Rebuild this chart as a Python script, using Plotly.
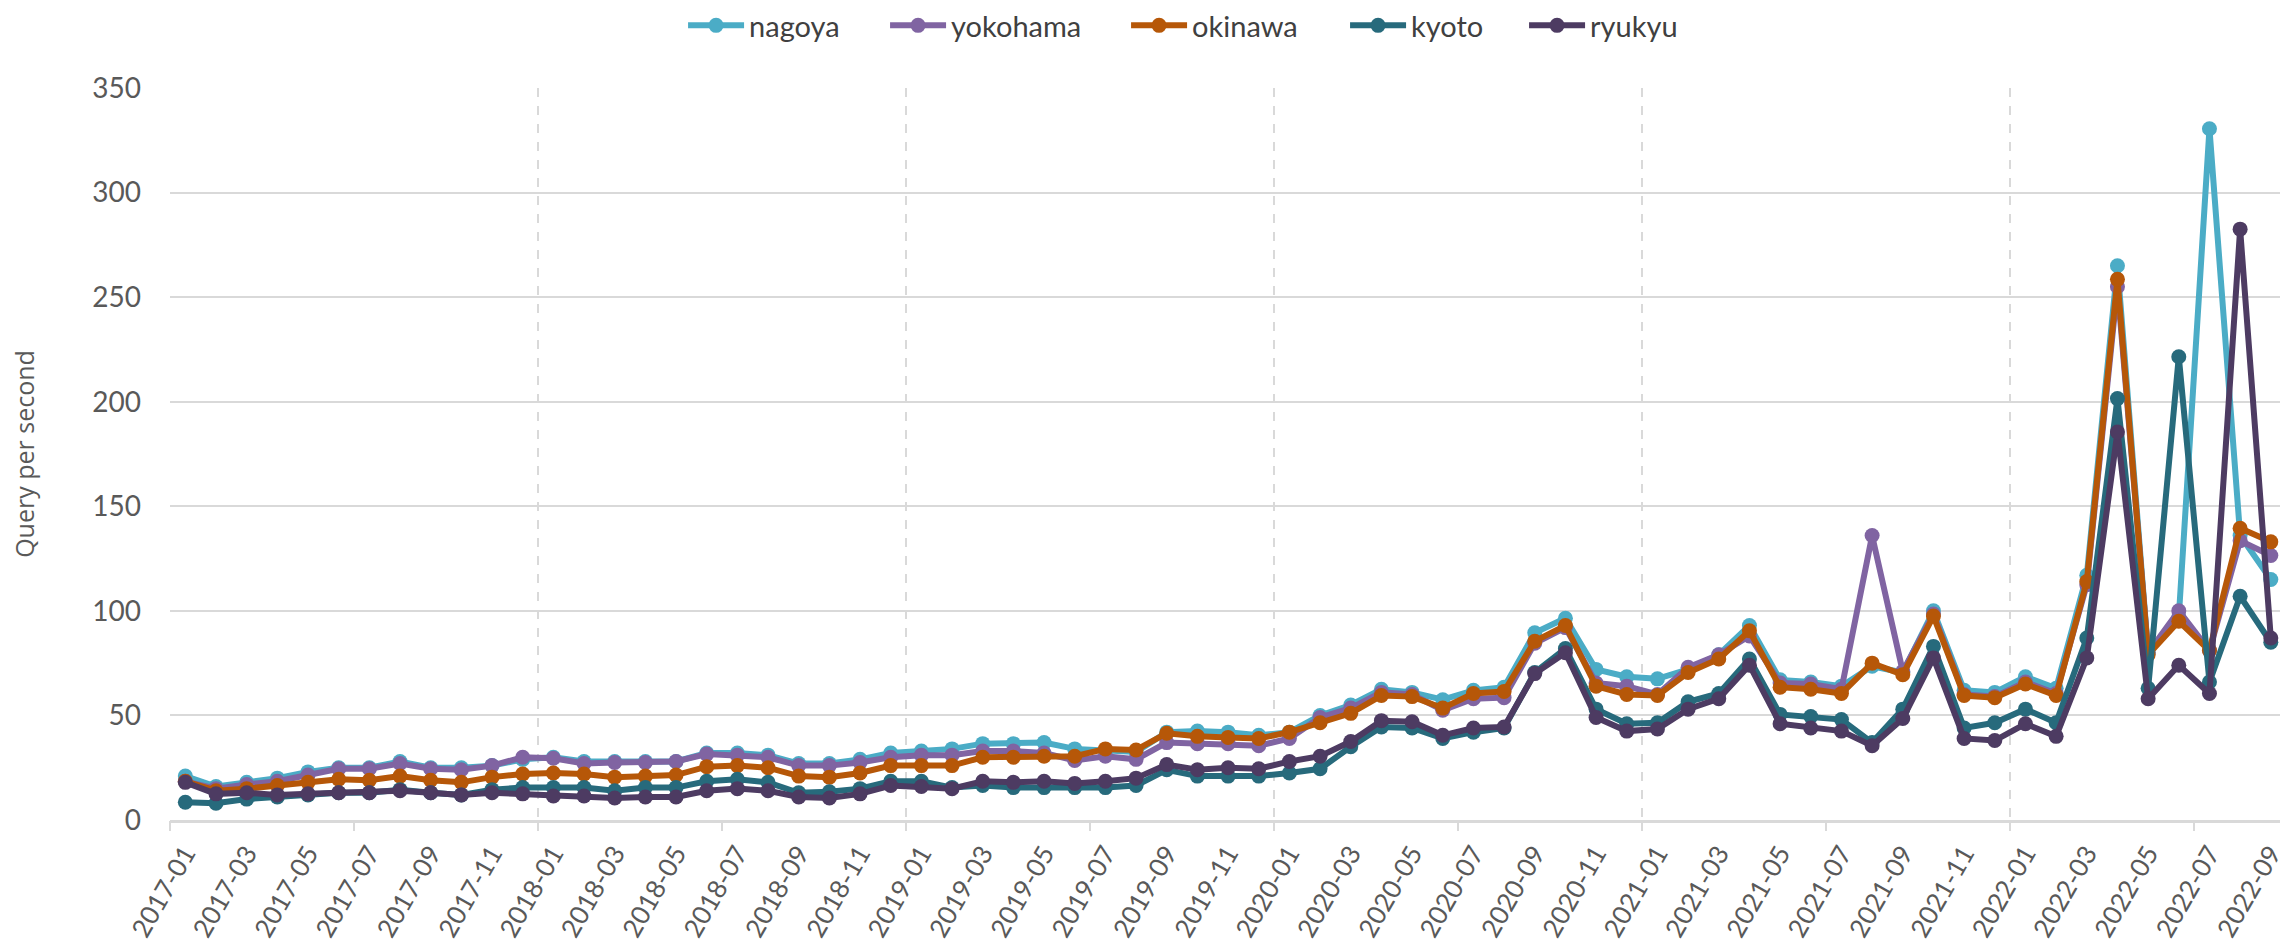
import plotly.graph_objects as go

# ---------------- data ----------------
months = [f"{y}-{m:02d}" for y in range(2017, 2023) for m in range(1, 13)][:69]

nagoya = [21, 16, 18, 20, 23, 25, 25, 28, 25, 25, 26, 29, 30, 28, 28, 28, 28, 32, 32, 31, 27, 27, 29, 32,
          33, 34, 36.5, 36.5, 37, 34, 33, 32.5, 42, 42.5, 42, 40.5, 42, 50, 55, 62.5, 61, 57.5,
          62, 63.5, 89.5, 96.5, 72, 68.5, 67.5, 72, 79, 93, 67, 66, 64,
          73.5, 70.5, 100, 62, 61, 68.5, 63, 117, 265, 80, 97, 330.5, 136, 115]
yokohama = [18.5, 15, 17, 18.5, 21.5, 24.5, 24.5, 27, 24.5, 24, 26, 30, 29.5, 27, 27.5, 27.5, 28, 31.5, 31, 30, 26, 26, 27.5, 30,
            31, 31, 33, 33, 32, 28.5, 30.5, 29, 37, 36.5, 36.5, 35.5, 39, 49, 53.5, 61, 60, 52.5,
            58, 58.5, 84.5, 92, 65.5, 64, 60, 73, 79, 88, 65.5, 65, 62.5,
            136, 71, 98.5, 60, 59, 66, 60.5, 112.5, 255, 80, 100, 81, 133.5, 126.5]
okinawa = [18.5, 14, 15, 16.5, 18, 19.5, 19, 21, 19, 18, 20.5, 22, 22.5, 22, 20.5, 21, 21.5, 25.5, 26, 25, 21, 20.5, 22.5, 26,
           26, 26, 30, 30, 30.5, 30.5, 34, 33.5, 41.5, 40, 39.5, 39, 42, 46.5, 51, 59.5, 59, 53.5,
           60.5, 61.5, 85.5, 93, 64, 60, 59.5, 70.5, 77, 90.5, 63.5, 62.5, 60.5,
           75, 69.5, 97.5, 59.5, 58.5, 65, 59.5, 114, 258.5, 79, 95, 81, 139.5, 133]
kyoto = [8.5, 8, 10, 11, 12, 13, 13, 14.5, 13, 12, 14.5, 15.5, 15.5, 15.5, 14, 15.5, 15.5, 18.5, 19.5, 18, 13, 13.5, 15, 18.5,
         18.5, 15.5, 16.5, 15.5, 15.5, 15.5, 15.5, 16.5, 24, 21, 21, 21, 22.5, 24.5, 35, 44.5, 44, 39,
         42, 44, 70.5, 82, 53, 46, 46.5, 56.5, 60.5, 77, 50.5, 49.5, 48,
         37, 53, 83, 44, 46.5, 53, 46.5, 87, 201.5, 63, 221.5, 66, 107, 85]
ryukyu = [18, 12.5, 13, 12, 12.5, 13, 13, 14, 13, 12, 13, 12.5, 11.5, 11.5, 10.5, 11, 11, 14, 15, 14, 11, 10.5, 12.5, 16.5,
          16, 15, 18.5, 18, 18.5, 17.5, 18.5, 20, 26.5, 24, 25, 24.5, 28, 30.5, 37.5, 47.5, 47, 40.5,
          44, 44.5, 70, 80, 49, 42.5, 43.5, 53, 58, 74, 46, 44, 42.5,
          35.5, 48.5, 77.5, 39, 38, 46, 40, 77.5, 185.5, 58, 74, 60.5, 282.5, 87]

series_names = ["nagoya", "yokohama", "okinawa", "kyoto", "ryukyu"]
series_values = [nagoya, yokohama, okinawa, kyoto, ryukyu]
y_ticks = [0, 50, 100, 150, 200, 250, 300, 350]

# ---------------- styles ----------------
colors = {"nagoya": "#4BACC6", "yokohama": "#8064A2", "okinawa": "#B65708",
          "kyoto": "#276A7C", "ryukyu": "#4D3B62"}
legend_widths = {"nagoya": 131, "yokohama": 170, "okinawa": 148, "kyoto": 108, "ryukyu": 90}
GRID = "#D9D9D9"
TXT = "#595959"
FONT = "Lato, Calibri, sans-serif"

n = len(months)
x_end = n - 1 + 0.3
year_bounds = [i - 0.5 for i in range(0, n, 12)]
half_bounds = [i - 0.5 for i in range(6, n, 12)]

fig = go.Figure()
for name, vals in zip(series_names, series_values):
    fig.add_trace(go.Scatter(
        x=months, y=vals, name=name, mode="lines+markers",
        line=dict(color=colors[name], width=6),
        marker=dict(color=colors[name], size=15),
        legendwidth=legend_widths[name],
        cliponaxis=False,
    ))

# empty helper trace so that the overlay axis (year grid / half-year ticks) is drawn
fig.add_trace(go.Scatter(x=[], y=[], xaxis="x2", yaxis="y", showlegend=False,
                         hoverinfo="skip", mode="lines"))

fig.update_layout(
    width=2280, height=950, autosize=False,
    paper_bgcolor="white", plot_bgcolor="white",
    margin=dict(l=170, r=0, t=73, b=130),
    font=dict(family=FONT, color=TXT, size=27),
    showlegend=True,
    legend=dict(orientation="h", x=0.4806, xanchor="center", y=1.086, yanchor="middle",
                font=dict(family=FONT, size=29, color="#404040"), itemwidth=56,
                bgcolor="rgba(0,0,0,0)"),
    xaxis=dict(type="category", range=[-0.5, x_end], tickvals=months[::2],
               tickangle=-60, showgrid=False, ticks="", ticklabelstandoff=5,
               tickfont=dict(family=FONT, size=26, color=TXT),
               showline=True, linecolor=GRID, linewidth=3, automargin=False,
               zeroline=False),
    xaxis2=dict(overlaying="x", anchor="y", type="linear", range=[-0.5, x_end],
                tickvals=year_bounds, showticklabels=False,
                showgrid=True, gridcolor=GRID, gridwidth=2, griddash="dash",
                ticks="outside", ticklen=10, tickcolor=GRID, tickwidth=2,
                minor=dict(tickvals=half_bounds, ticks="outside", ticklen=10,
                           tickcolor=GRID, tickwidth=2, showgrid=False),
                zeroline=False, showline=False, automargin=False, side="bottom"),
    yaxis=dict(range=[0, 350], tickvals=y_ticks, showgrid=True, gridcolor=GRID, gridwidth=2,
               zeroline=False, showline=False, ticks="", ticklabelstandoff=28,
               tickfont=dict(family=FONT, size=28, color=TXT), automargin=False,
               title=dict(text="Query per second", standoff=50,
                          font=dict(family="Open Sans, sans-serif", size=25, color=TXT))),
)

fig.write_html("out.html", config={"displayModeBar": False},
               post_script="document.body.style.margin='0px';")
